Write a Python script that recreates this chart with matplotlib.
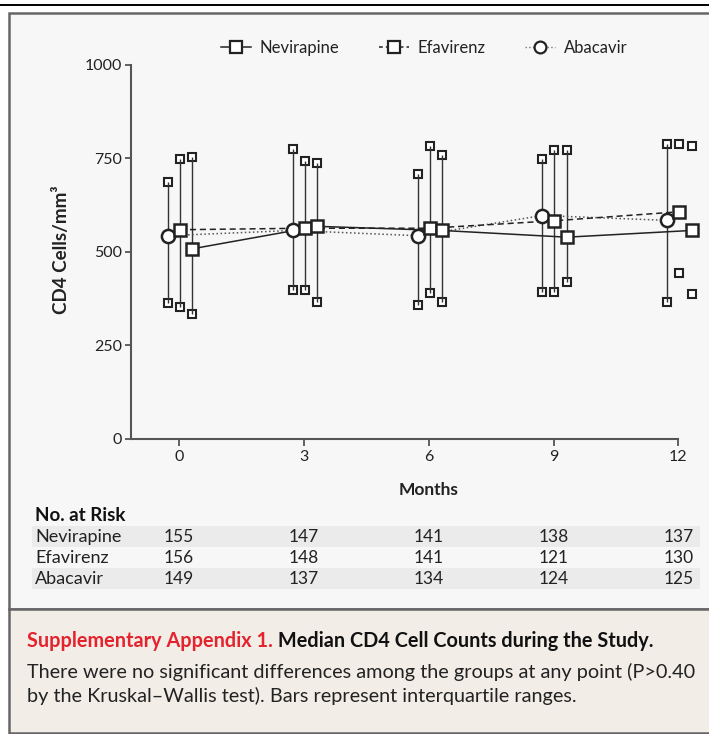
import matplotlib
matplotlib.use("Agg")
import matplotlib.pyplot as plt
import matplotlib.patches as mpatches
import matplotlib.transforms as mtransforms
from matplotlib.lines import Line2D

plt.rcParams['font.family'] = ['Lato', 'DejaVu Sans']

# study visits (months)
months = [0, 3, 6, 9, 12]

# median CD4 counts and interquartile ranges
nev_median = [508, 568, 557, 539, 557]
nev_q1 = [332, 366, 366, 418, 387]
nev_q3 = [753, 738, 758, 772, 783]

efv_median = [559, 563, 563, 583, 607]
efv_q1 = [353, 398, 389, 392, 443]
efv_q3 = [747, 743, 783, 772, 788]

aba_median = [543, 557, 543, 597, 584]
aba_q1 = [363, 398, 358, 392, 366]
aba_q3 = [688, 774, 709, 747, 788]

# number at risk
risk_labels = ['Nevirapine', 'Efavirenz', 'Abacavir']
risk_nev = [155, 147, 141, 138, 137]
risk_efv = [156, 148, 141, 121, 130]
risk_aba = [149, 137, 134, 124, 125]

W, H = 709, 734
fig = plt.figure(figsize=(W / 100, H / 100), dpi=100, facecolor='white')

# background layer in pixel coordinates (frame, table, caption)
bg = fig.add_axes([0, 0, 1, 1], zorder=0)
bg.set_xlim(0, W)
bg.set_ylim(H, 0)
bg.axis('off')

bg.plot([0, W], [5, 5], color='black', lw=1.4)
bg.add_patch(mpatches.Rectangle((9, 13), W, 596, facecolor='#f7f7f7',
                                edgecolor='#666666', lw=1.8))
bg.add_patch(mpatches.Rectangle((9, 609), W, 124, facecolor='#f2ede7',
                                edgecolor='#666666', lw=1.8))

# main chart
ax = fig.add_axes([130.5 / W, 1 - 438.5 / H, 547.8 / W, 373.5 / H], zorder=2)
ax.set_facecolor('none')
ax.set_xlim(-1.17, 12)
ax.set_ylim(0, 1000)


def draw_group(offset, med, q1, q3, marker, ls, lc, lw, ms):
    x = [m + offset for m in months]
    cap = dict(ls='none', marker='s', ms=6, mfc='white', mec='#222222',
               mew=1.5, zorder=3, clip_on=False)
    ax.plot(x, q1, **cap)
    ax.plot(x, q3, **cap)
    ax.vlines(x, q1, q3, color='#333333', lw=1.0, zorder=4)
    ax.plot(x, med, ls=ls, color=lc, lw=lw, zorder=5, clip_on=False)
    ax.plot(x, med, ls='none', marker=marker, ms=ms, mfc='white',
            mec='#222222', mew=1.8, zorder=6, clip_on=False)


draw_group(-0.27, aba_median, aba_q1, aba_q3, 'o', ':', '#555555', 1.1, 9.5)
draw_group(0.02, efv_median, efv_q1, efv_q3, 's', (0, (4, 2.5)), '#222222', 1.1, 9)
draw_group(0.32, nev_median, nev_q1, nev_q3, 's', '-', '#222222', 1.1, 9)

for side in ['top', 'right']:
    ax.spines[side].set_visible(False)
for side in ['left', 'bottom']:
    ax.spines[side].set_color('#555555')
    ax.spines[side].set_linewidth(1.5)

ax.set_xticks(months)
ax.set_yticks([0, 250, 500, 750, 1000])
ax.tick_params(axis='x', length=5, width=1.3, color='#555555', pad=3,
               labelsize=11.5, labelcolor='#222222')
ax.tick_params(axis='y', length=4, width=1.3, color='#555555', pad=2,
               labelsize=11.5, labelcolor='#222222')

bg.text(62, 250, 'CD4 Cells/mm³', rotation=90, ha='center', va='center',
        fontsize=13.5, fontweight='bold', color='#222222')
bg.text(429, 495, 'Months', ha='center', va='baseline', fontsize=12.5,
        fontweight='bold', color='#222222')

# legend
handles = [
    Line2D([], [], color='#222222', lw=1.1, ls='-', marker='s', ms=8.5,
           mfc='white', mec='#222222', mew=1.6),
    Line2D([], [], color='#222222', lw=1.1, ls=(0, (2.5, 2)), marker='s', ms=8.5,
           mfc='white', mec='#222222', mew=1.6),
    Line2D([], [], color='#777777', lw=1.0, ls=':', marker='o', ms=8.5,
           mfc='white', mec='#222222', mew=1.6),
]
fig.legend(handles, ['Nevirapine', 'Efavirenz', 'Abacavir'], ncol=3,
           loc='center', bbox_to_anchor=(424 / W, 1 - 48 / H), frameon=False,
           fontsize=12, handlelength=1.8, handletextpad=0.5,
           columnspacing=2.4, labelcolor='#222222')

# number-at-risk table
bg.text(35, 521, 'No. at Risk', fontsize=13.5, fontweight='bold',
        va='baseline', color='#111111')
row_base = [542, 563, 584]
risk_rows = [risk_nev, risk_efv, risk_aba]
tr = mtransforms.blended_transform_factory(ax.transData, bg.transData)
for i, (label, vals) in enumerate(zip(risk_labels, risk_rows)):
    if i != 1:
        bg.add_patch(mpatches.Rectangle((32, row_base[i] - 16), 668, 21,
                                        facecolor='#ebebeb', edgecolor='none'))
    bg.text(35, row_base[i], label, fontsize=13, va='baseline', color='#222222')
    for m, v in zip(months, vals):
        bg.text(m, row_base[i], str(v), transform=tr, ha='center',
                va='baseline', fontsize=12.5, color='#222222')

# caption
t1 = bg.text(27, 647, 'Supplementary Appendix 1.', fontsize=14.3,
             fontweight='bold', color='#e4232e', va='baseline')
bg.annotate(' Median CD4 Cell Counts during the Study.', xy=(1, 0),
            xycoords=t1, va='bottom', ha='left', fontsize=14.3,
            fontweight='bold', color='#111111')
bg.text(27, 678, 'There were no significant differences among the groups at any point (P>0.40',
        fontsize=14.3, va='baseline', color='#222222')
bg.text(27, 702, 'by the Kruskal–Wallis test). Bars represent interquartile ranges.',
        fontsize=14.3, va='baseline', color='#222222')

fig.savefig('out.png', dpi=100, facecolor='white')
